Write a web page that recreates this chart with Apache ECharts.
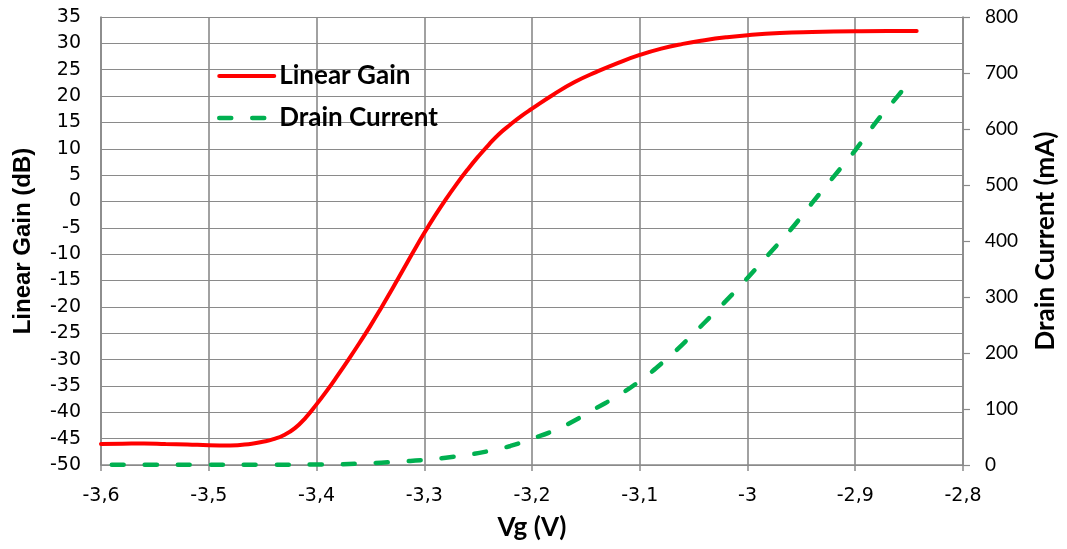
<!DOCTYPE html>
<html>
<head>
<meta charset="utf-8">
<script src="https://cdn.jsdelivr.net/npm/echarts@6/dist/echarts.min.js"></script>
<style>
html,body{margin:0;padding:0;background:#fff;}
#c{width:1067px;height:549px;}
</style>
</head>
<body>
<div id="c"></div>
<script>
// Vg (V) sample points and values
const gainVg = [-3.60,-3.58,-3.56,-3.54,-3.52,-3.50,-3.48,-3.46,-3.45,-3.44,-3.43,-3.42,-3.41,-3.40,-3.39,-3.38,-3.37,-3.36,-3.35,-3.34,-3.33,-3.32,-3.31,-3.30,-3.29,-3.28,-3.27,-3.26,-3.25,-3.24,-3.23,-3.22,-3.21,-3.20,-3.18,-3.16,-3.14,-3.12,-3.10,-3.08,-3.06,-3.04,-3.02,-3.00,-2.97,-2.94,-2.90,-2.87,-2.843];
const gainDb = [-46.0,-45.95,-45.9,-46.0,-46.1,-46.25,-46.3,-45.95,-45.6,-45.1,-44.3,-43.0,-41.0,-38.5,-35.8,-32.9,-29.9,-26.8,-23.6,-20.2,-16.7,-13.1,-9.5,-6.0,-2.7,0.4,3.3,6.0,8.5,10.8,12.9,14.6,16.2,17.6,20.3,22.7,24.6,26.3,27.8,29.0,29.9,30.6,31.15,31.55,31.95,32.15,32.3,32.35,32.35];

const currentVg = [-3.59,-3.55,-3.50,-3.45,-3.40,-3.38,-3.36,-3.34,-3.32,-3.30,-3.28,-3.26,-3.24,-3.22,-3.20,-3.18,-3.16,-3.14,-3.12,-3.10,-3.08,-3.06,-3.04,-3.02,-3.00,-2.98,-2.96,-2.94,-2.92,-2.90,-2.88,-2.86,-2.848];
const currentMa = [0.3,0.3,0.3,0.4,0.8,1.3,2.4,4.2,6.4,9.0,13,18,25,34,47,61,80,102,124,150,181,216,254,293,334,377,420,468,515,562,614,660,688];

const xTicks = {min:-3.6, max:-2.8, step:0.1};
const gainTicks = {min:-50, max:35, step:5};
const currentTicks = {min:0, max:800, step:100};

const seriesNames = ['Linear Gain','Drain Current'];
const xTitle = 'Vg (V)';
const leftTitle = 'Linear Gain (dB)';
const rightTitle = 'Drain Current (mA)';

const gridColor = '#8a8a8a';
const chart = echarts.init(document.getElementById('c'), null, {renderer:'canvas'});
chart.setOption({
  animation:false,
  backgroundColor:'#fff',
  grid:{left:101, right:100, top:17, bottom:84, containLabel:false},
  legend:{
    orient:'vertical', left:217, top:63, padding:0, itemWidth:55, itemHeight:14, itemGap:16,
    selectedMode:false,
    itemStyle:{opacity:0},
    lineStyle:{width:'inherit', type:'inherit', cap:'inherit'},
    textStyle:{fontFamily:'Lato', fontWeight:'bold', fontSize:26, color:'#000'},
    data:seriesNames
  },
  xAxis:{
    type:'value', min:xTicks.min, max:xTicks.max, interval:xTicks.step,
    name:xTitle, nameLocation:'middle', nameGap:50,
    nameTextStyle:{fontFamily:'Lato', fontWeight:'bold', fontSize:26, color:'#000'},
    axisLine:{show:true, onZero:false, lineStyle:{color:gridColor, width:1.5}},
    axisTick:{show:true, inside:false, length:6, lineStyle:{color:gridColor, width:1.5}},
    axisLabel:{margin:22, fontFamily:'DejaVu Sans', fontSize:19, color:'#000',
      formatter:v => (Math.round(v*10)/10).toString().replace('.', ',')},
    splitLine:{show:true, lineStyle:{color:gridColor, width:1.6}}
  },
  yAxis:[{
    type:'value', min:gainTicks.min, max:gainTicks.max, interval:gainTicks.step,
    name:leftTitle, nameLocation:'middle', nameGap:66, nameRotate:90,
    nameTextStyle:{fontFamily:'Liberation Sans', fontWeight:'bold', fontSize:24, color:'#000'},
    axisLine:{show:true, onZero:false, lineStyle:{color:gridColor, width:1.6}},
    axisTick:{show:false},
    axisLabel:{margin:20, fontFamily:'DejaVu Sans', fontSize:19, color:'#000'},
    splitLine:{show:true, lineStyle:{color:gridColor, width:1.2}}
  },{
    type:'value', min:currentTicks.min, max:currentTicks.max, interval:currentTicks.step,
    position:'right',
    name:rightTitle, nameLocation:'middle', nameGap:70, nameRotate:90,
    nameTextStyle:{fontFamily:'Lato', fontWeight:'bold', fontSize:26, color:'#000'},
    axisLine:{show:true, onZero:false, lineStyle:{color:gridColor, width:1.6}},
    axisTick:{show:true, inside:false, length:7, lineStyle:{color:gridColor, width:1.2}},
    axisLabel:{margin:22, fontFamily:'Lato', fontSize:19, color:'#000'},
    splitLine:{show:false}
  }],
  series:[{
    name:seriesNames[0], type:'line', yAxisIndex:0, smooth:true, showSymbol:false, symbol:'none',
    lineStyle:{color:'#ff0000', width:4, cap:'round'},
    itemStyle:{color:'#ff0000'},
    data:gainVg.map((v,i)=>[v, gainDb[i]])
  },{
    name:seriesNames[1], type:'line', yAxisIndex:1, smooth:true, showSymbol:false, symbol:'none',
    lineStyle:{color:'#00b050', width:4.5, type:[12,21], cap:'round'},
    itemStyle:{color:'#00b050'},
    data:currentVg.map((v,i)=>[v, currentMa[i]])
  }]
});
</script>
</body>
</html>
